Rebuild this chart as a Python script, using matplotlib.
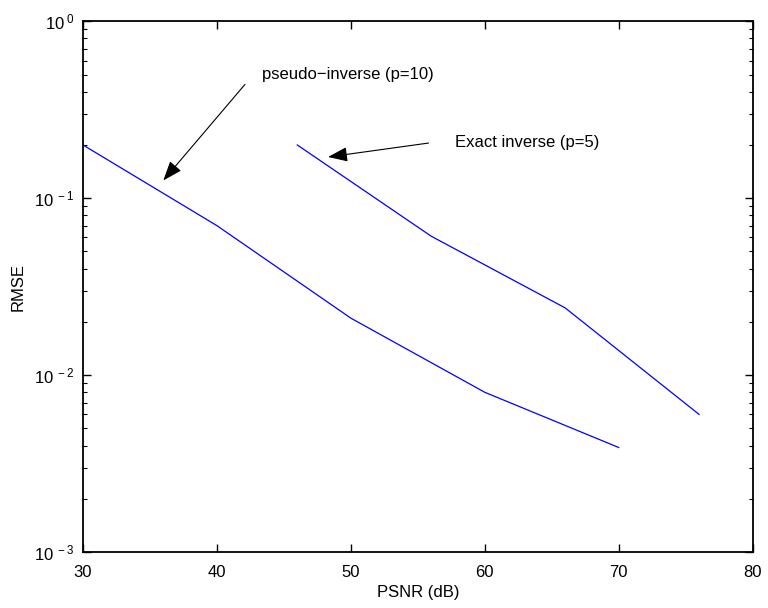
import numpy as np
import matplotlib.pyplot as plt
from matplotlib.ticker import FixedLocator, FixedFormatter, LogLocator, NullFormatter

plt.rcParams['font.family'] = ['Liberation Sans', 'DejaVu Sans']
plt.rcParams['mathtext.fontset'] = 'custom'
plt.rcParams['mathtext.rm'] = 'Liberation Sans'
plt.rcParams['mathtext.it'] = 'Liberation Sans'

# pseudo-inverse (p=10)
psnr_pinv = [30, 40, 50, 60, 70]
rmse_pinv = [0.2, 0.07, 0.021, 0.008, 0.0039]

# exact inverse (p=5)
psnr_exact = [46, 56, 66, 76]
rmse_exact = [0.2, 0.061, 0.024, 0.006]

xticks = [30, 40, 50, 60, 70, 80]
yticks = [1e-3, 1e-2, 1e-1, 1e0]
ytick_labels = ['$10^{\\ -3}$', '$10^{\\ -2}$', '$10^{\\ -1}$', '$10^{\\ 0}$']

fig = plt.figure(figsize=(7.68, 6.08), dpi=100)
ax = fig.add_axes([0.108, 0.092, 0.872, 0.873])

ax.semilogy(psnr_pinv, rmse_pinv, color='#0000ff', lw=0.9)
ax.semilogy(psnr_exact, rmse_exact, color='#0000ff', lw=0.9)

ax.set_xlim(30, 80)
ax.set_ylim(1e-3, 1e0)
ax.xaxis.set_major_locator(FixedLocator(xticks))
ax.yaxis.set_major_locator(FixedLocator(yticks))
ax.yaxis.set_major_formatter(FixedFormatter(ytick_labels))
ax.yaxis.set_minor_locator(LogLocator(base=10, subs=np.arange(2, 10)))
ax.yaxis.set_minor_formatter(NullFormatter())
ax.tick_params(which='both', direction='in', top=True, right=True, labelsize=12)
ax.tick_params(which='major', length=6, width=1)
ax.tick_params(axis='x', which='major', pad=9)
ax.tick_params(axis='y', which='major', pad=6)
ax.tick_params(which='minor', length=3, width=0.8)
for s in ax.spines.values():
    s.set_linewidth(1.3)

ax.set_xlabel('PSNR (dB)', fontsize=12, labelpad=4)
ax.set_ylabel('RMSE', fontsize=12, labelpad=6)

arrow = dict(arrowstyle='-|>,head_length=1.2,head_width=0.45', color='black',
             lw=0.8, shrinkA=0, shrinkB=0)
ax.annotate('', xy=(36.0, 0.126), xytext=(42.1, 0.44), arrowprops=arrow)
ax.text(43.4, 0.5, 'pseudo\u2212inverse (p=10)', fontsize=12, va='center', ha='left')
ax.annotate('', xy=(48.3, 0.171), xytext=(55.8, 0.205), arrowprops=arrow)
ax.text(57.8, 0.207, 'Exact inverse (p=5)', fontsize=12, va='center', ha='left')

fig.savefig('out.png', dpi=100)
